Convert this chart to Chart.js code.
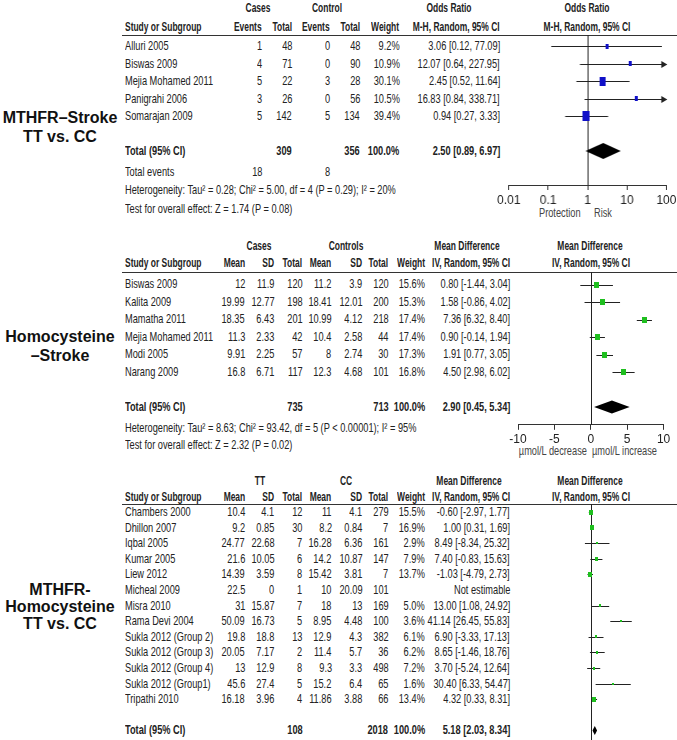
<!DOCTYPE html>
<html><head><meta charset="utf-8">
<script src="https://cdn.jsdelivr.net/npm/chart.js@4.4.1/dist/chart.umd.min.js"></script>
<style>
html,body{margin:0;padding:0;background:#fff;}
body{width:677px;height:740px;position:relative;overflow:hidden;font-family:"Liberation Sans",Arial,sans-serif;color:#222;}
.t{position:absolute;white-space:nowrap;font-size:13px;line-height:16px;}
.b,.h{font-weight:bold;}
.g{color:#444;}
.lab{position:absolute;white-space:nowrap;font-size:16px;font-weight:bold;line-height:20px;color:#111;}
.hl{position:absolute;height:0;border-top:1px solid #333;}
.wrap{position:absolute;}
</style></head><body>
<script>
// ---------------- DATA ----------------
// Panel 1: MTHFR–Stroke TT vs. CC (Odds ratio, log scale)
const p1Studies   = ["Alluri 2005","Biswas 2009","Mejia Mohamed 2011","Panigrahi 2006","Somarajan 2009"];
const p1CaseEv    = [1,4,5,3,5];
const p1CaseTot   = [48,71,22,26,142];
const p1CtrlEv    = [0,0,3,0,5];
const p1CtrlTot   = [48,90,28,56,134];
const p1Weight    = [9.2,10.9,30.1,10.5,39.4];
const p1Est       = [3.06,12.07,2.45,16.83,0.94];
const p1Lo        = [0.12,0.64,0.52,0.84,0.27];
const p1Hi        = [77.09,227.95,11.64,338.71,3.33];
const p1TotalN    = [309,356];
const p1TotalEv   = [18,8];
const p1TotalEst  = [2.50,0.89,6.97];   // estimate, lower, upper
const p1Ticks     = [0.01,0.1,1,10,100];
const p1TickLabels= ["0.01","0.1","1","10","100"];
const p1Het  = "Heterogeneity: Tau\u00b2 = 0.28; Chi\u00b2 = 5.00, df = 4 (P = 0.29); I\u00b2 = 20%";
const p1Test = "Test for overall effect: Z = 1.74 (P = 0.08)";

// Panel 2: Homocysteine–Stroke (Mean difference)
const p2Studies  = ["Biswas 2009","Kalita 2009","Mamatha 2011","Mejia Mohamed 2011","Modi 2005","Narang 2009"];
const p2CaseMean = [12,19.99,18.35,11.3,9.91,16.8];
const p2CaseSD   = [11.9,12.77,6.43,2.33,2.25,6.71];
const p2CaseTot  = [120,198,201,42,57,117];
const p2CtrlMean = [11.2,18.41,10.99,10.4,8,12.3];
const p2CtrlSD   = [3.9,12.01,4.12,2.58,2.74,4.68];
const p2CtrlTot  = [120,200,218,44,30,101];
const p2Weight   = [15.6,15.3,17.4,17.4,17.3,16.8];
const p2Est      = [0.80,1.58,7.36,0.90,1.91,4.50];
const p2Lo       = [-1.44,-0.86,6.32,-0.14,0.77,2.98];
const p2Hi       = [3.04,4.02,8.40,1.94,3.05,6.02];
const p2TotalN   = [735,713];
const p2TotalEst = [2.90,0.45,5.34];
const p2Ticks    = [-10,-5,0,5,10];
const p2TickLabels = ["-10","-5","0","5","10"];
const p2Het  = "Heterogeneity: Tau\u00b2 = 8.63; Chi\u00b2 = 93.42, df = 5 (P < 0.00001); I\u00b2 = 95%";
const p2Test = "Test for overall effect: Z = 2.32 (P = 0.02)";

// Panel 3: MTHFR–Homocysteine TT vs. CC (Mean difference)
const p3Studies  = ["Chambers 2000","Dhillon 2007","Iqbal 2005","Kumar 2005","Liew 2012","Micheal 2009","Misra 2010","Rama Devi 2004","Sukla 2012 (Group 2)","Sukla 2012 (Group 3)","Sukla 2012 (Group 4)","Sukla 2012 (Group1)","Tripathi 2010"];
const p3TTMean   = [10.4,9.2,24.77,21.6,14.39,22.5,31,50.09,19.8,20.05,13,45.6,16.18];
const p3TTSD     = [4.1,0.85,22.68,10.05,3.59,0,15.87,16.73,18.8,7.17,12.9,27.4,3.96];
const p3TTTot    = [12,30,7,6,8,1,7,5,13,2,8,5,4];
const p3CCMean   = [11,8.2,16.28,14.2,15.42,10,18,8.95,12.9,11.4,9.3,15.2,11.86];
const p3CCSD     = [4.1,0.84,6.36,10.87,3.81,20.09,13,4.48,4.3,5.7,3.3,6.4,3.88];
const p3CCTot    = [279,7,161,147,7,101,169,100,382,36,498,65,66];
const p3Weight   = [15.5,16.9,2.9,7.9,13.7,null,5.0,3.6,6.1,6.2,7.2,1.6,13.4];
const p3Est      = [-0.60,1.00,8.49,7.40,-1.03,null,13.00,41.14,6.90,8.65,3.70,30.40,4.32];
const p3Lo       = [-2.97,0.31,-8.34,-0.83,-4.79,null,1.08,26.45,-3.33,-1.46,-5.24,6.33,0.33];
const p3Hi       = [1.77,1.69,25.32,15.63,2.73,null,24.92,55.83,17.13,18.76,12.64,54.47,8.31];
const p3TotalN   = [108,2018];
const p3TotalEst = [5.18,2.03,8.34];

// ---------------- LAYOUT / HELPERS ----------------
const PAGE_W = 677, SQ = 0.71, SQH = 0.65;
function txt(s, x, y, align, cls) {
  const d = document.createElement('div');
  d.className = 't ' + (cls || '');
  d.textContent = s;
  d.style.top = (y - 8) + 'px';
  const sq = (cls === 'h') ? SQH : SQ;
  if (align === 'right') { d.style.right = (PAGE_W - x) + 'px'; d.style.transformOrigin = 'right center'; d.style.transform = 'scaleX(' + sq + ')'; }
  else if (align === 'center') { d.style.left = x + 'px'; d.style.transformOrigin = '0 50%'; d.style.transform = 'scaleX(' + sq + ') translateX(-50%)'; }
  else { d.style.left = x + 'px'; d.style.transformOrigin = 'left center'; d.style.transform = 'scaleX(' + sq + ')'; }
  document.body.appendChild(d);
}
function label(s, x, y) {
  const d = document.createElement('div');
  d.className = 'lab'; d.textContent = s;
  d.style.left = x + 'px'; d.style.top = (y - 10) + 'px'; d.style.transform = 'translateX(-50%)';
  document.body.appendChild(d);
}
function hline(x1, x2, y) {
  const d = document.createElement('div'); d.className = 'hl';
  d.style.left = x1 + 'px'; d.style.width = (x2 - x1) + 'px'; d.style.top = y + 'px';
  document.body.appendChild(d);
}
const f2 = v => v.toFixed(2);
const ci = (e, l, h) => f2(e) + ' [' + f2(l) + ', ' + f2(h) + ']';
const pct = w => w.toFixed(1) + '%';
function rectStyle(w, h, color) {
  const c = document.createElement('canvas'); c.width = w; c.height = h;
  const g = c.getContext('2d'); g.fillStyle = color; g.fillRect(0, 0, w, h); return c;
}

const forestPlugin = {
  id: 'forest',
  beforeDatasetsDraw(chart, args, o) {
    const {ctx, chartArea: a, scales: {x, y}} = chart;
    ctx.save();
    ctx.strokeStyle = o.lineColor; ctx.fillStyle = o.lineColor; ctx.lineWidth = 1;
    const xn = Math.round(x.getPixelForValue(o.nullValue)) + 0.5;
    ctx.beginPath(); ctx.moveTo(xn, a.top); ctx.lineTo(xn, a.bottom); ctx.stroke();
    o.rows.forEach((r, i) => {
      const lo = o.lo[i], hi = o.hi[i];
      if (lo == null || hi == null) return;
      const yy = Math.round(y.getPixelForValue(r)) + 0.5;
      const xl = x.getPixelForValue(Math.max(lo, x.min));
      const xh = x.getPixelForValue(Math.min(hi, x.max));
      ctx.beginPath(); ctx.moveTo(xl, yy); ctx.lineTo(xh, yy); ctx.stroke();
      if (hi > x.max) { ctx.beginPath(); ctx.moveTo(xh + 1, yy); ctx.lineTo(xh - 5, yy - 3.5); ctx.lineTo(xh - 5, yy + 3.5); ctx.closePath(); ctx.fill(); }
      if (lo < x.min) { ctx.beginPath(); ctx.moveTo(xl - 1, yy); ctx.lineTo(xl + 5, yy - 3.5); ctx.lineTo(xl + 5, yy + 3.5); ctx.closePath(); ctx.fill(); }
    });
    const t = o.total, yt = y.getPixelForValue(t.row);
    ctx.fillStyle = '#000';
    ctx.beginPath();
    ctx.moveTo(x.getPixelForValue(t.lo), yt);
    ctx.lineTo(x.getPixelForValue(t.est), yt - t.halfH);
    ctx.lineTo(x.getPixelForValue(t.hi), yt);
    ctx.lineTo(x.getPixelForValue(t.est), yt + t.halfH);
    ctx.closePath(); ctx.fill();
    ctx.restore();
  }
};

function makeChart(P, xScale, pts, styles, forestOpts) {
  const wrap = document.createElement('div'); wrap.className = 'wrap';
  document.body.appendChild(wrap);
  const cv = document.createElement('canvas'); wrap.appendChild(cv);
  let wl = P.left - 12, wt = P.top, ww = P.right - P.left + 24, wh = P.bottom - P.top + (xScale.display === false ? 0 : 26);
  const apply = () => { wrap.style.left = wl + 'px'; wrap.style.top = wt + 'px'; wrap.style.width = ww + 'px'; wrap.style.height = wh + 'px'; };
  apply();
  const rmin = 1 + (P.top - P.first) / P.pitch, rmax = 1 + (P.bottom - P.first) / P.pitch;
  const chart = new Chart(cv, {
    type: 'scatter',
    data: { datasets: [{ data: pts, pointStyle: styles, pointRadius: 3, pointHoverRadius: 3, borderWidth: 0 }] },
    options: {
      animation: false, responsive: true, maintainAspectRatio: false, events: [],
      layout: { padding: xScale.display === false ? 0 : { left: 12, right: 12, top: 0, bottom: 0 } },
      plugins: { legend: { display: false }, tooltip: { enabled: false }, forest: forestOpts },
      scales: { x: xScale, y: { type: 'linear', display: false, reverse: true, min: rmin, max: rmax } }
    },
    plugins: [forestPlugin]
  });
  for (let k = 0; k < 3; k++) {
    const a = chart.chartArea;
    wl = wl + (P.left - (wl + a.left));
    wt = wt + (P.top - (wt + a.top));
    ww = ww + ((P.right - P.left) - (a.right - a.left));
    wh = wh + ((P.bottom - P.top) - (a.bottom - a.top));
    apply(); chart.resize();
  }
  return chart;
}
function axisX(type, min, max, ticks, labels) {
  return {
    type, min, max,
    afterBuildTicks: s => { s.ticks = ticks.map(v => ({ value: v })); },
    ticks: { callback: (v, i) => labels[i], color: '#222', padding: 3, maxRotation: 0, autoSkip: false,
             font: { family: '"Liberation Sans Narrow","Liberation Sans",Arial,sans-serif', size: 12 } },
    grid: { display: true, drawOnChartArea: false, drawTicks: true, tickLength: 5, color: '#333', tickColor: '#333' },
    border: { display: true, color: '#333', width: 1 }
  };
}

// ---------------- PANEL 1 ----------------
const P1 = { first: 46, pitch: 17.5, top: 35, bottom: 185, left: 509, right: 665.7 };
const y1 = r => P1.first + (r - 1) * P1.pitch;
txt('Cases', 258, 8.3, 'center', 'h'); txt('Control', 326.5, 8.3, 'center', 'h');
txt('Odds Ratio', 449, 8.3, 'center', 'h'); txt('Odds Ratio', 587, 8.3, 'center', 'h');
const c1 = [262, 292, 330, 360, 399.5, 500];
txt('Study or Subgroup', 125, 26.7, 'left', 'h');
['Events', 'Total', 'Events', 'Total', 'Weight', 'M-H, Random, 95% CI'].forEach((h, j) => txt(h, c1[j], 26.7, 'right', 'h'));
txt('M-H, Random, 95% CI', 587, 26.7, 'center', 'h');
hline(122, 677, 35);
p1Studies.forEach((s, i) => {
  const y = y1(i + 1);
  txt(s, 125, y, 'left');
  [p1CaseEv[i], p1CaseTot[i], p1CtrlEv[i], p1CtrlTot[i], pct(p1Weight[i]), ci(p1Est[i], p1Lo[i], p1Hi[i])]
    .forEach((v, j) => txt(String(v), c1[j], y, 'right'));
});
const t1y = y1(7);
txt('Total (95% CI)', 125, t1y, 'left', 'b');
txt(String(p1TotalN[0]), c1[1], t1y, 'right', 'b'); txt(String(p1TotalN[1]), c1[3], t1y, 'right', 'b');
txt('100.0%', c1[4], t1y, 'right', 'b'); txt(ci(p1TotalEst[0], p1TotalEst[1], p1TotalEst[2]), c1[5], t1y, 'right', 'b');
txt('Total events', 125, t1y + 21, 'left');
txt(String(p1TotalEv[0]), c1[0], t1y + 21, 'right'); txt(String(p1TotalEv[1]), c1[2], t1y + 21, 'right');
txt(p1Het, 125, t1y + 39, 'left'); txt(p1Test, 125, t1y + 57.5, 'left');
txt('Protection', 581, 213, 'right', 'g'); txt('Risk', 594, 213, 'left', 'g');
label('MTHFR\u2013Stroke', 60, 118); label('TT vs. CC', 60, 137);

makeChart(P1, axisX('logarithmic', 0.01, 100, p1Ticks, p1TickLabels),
  p1Est.map((v, i) => ({ x: v, y: i + 1 })),
  p1Weight.map(w => { const h = Math.max(3, Math.round(Math.sqrt(w) * 1.6)); return rectStyle(Math.max(2, Math.round(h * 0.68)), h, '#1010c8'); }),
  { rows: p1Studies.map((s, i) => i + 1), lo: p1Lo, hi: p1Hi, nullValue: 1, lineColor: '#222',
    total: { row: 7, est: p1TotalEst[0], lo: p1TotalEst[1], hi: p1TotalEst[2], halfH: 8 } });

// ---------------- PANEL 2 ----------------
const P2 = { first: 284.3, pitch: 17.5, top: 271.7, bottom: 424.5, left: 517.7, right: 663.3 };
const y2 = r => P2.first + (r - 1) * P2.pitch;
const c2 = [245, 274.3, 302.3, 331.7, 362.3, 388.3, 425, 510];
txt('Cases', 259, 245.7, 'center', 'h'); txt('Controls', 345.5, 245.7, 'center', 'h');
txt('Mean Difference', 467, 245.7, 'center', 'h'); txt('Mean Difference', 590, 245.7, 'center', 'h');
txt('Study or Subgroup', 125, 263.3, 'left', 'h');
['Mean', 'SD', 'Total', 'Mean', 'SD', 'Total', 'Weight', 'IV, Random, 95% CI'].forEach((h, j) => txt(h, c2[j], 263.3, 'right', 'h'));
txt('IV, Random, 95% CI', 590.5, 263.3, 'center', 'h');
hline(122, 677, 271.7);
p2Studies.forEach((s, i) => {
  const y = y2(i + 1);
  txt(s, 125, y, 'left');
  [p2CaseMean[i], p2CaseSD[i], p2CaseTot[i], p2CtrlMean[i], p2CtrlSD[i], p2CtrlTot[i], pct(p2Weight[i]), ci(p2Est[i], p2Lo[i], p2Hi[i])]
    .forEach((v, j) => txt(String(v), c2[j], y, 'right'));
});
const t2y = y2(8);
txt('Total (95% CI)', 125, t2y, 'left', 'b');
txt(String(p2TotalN[0]), c2[2], t2y, 'right', 'b'); txt(String(p2TotalN[1]), c2[5], t2y, 'right', 'b');
txt('100.0%', c2[6], t2y, 'right', 'b'); txt(ci(p2TotalEst[0], p2TotalEst[1], p2TotalEst[2]), c2[7], t2y, 'right', 'b');
txt(p2Het, 125, t2y + 21, 'left'); txt(p2Test, 125, t2y + 38.5, 'left');
txt('\u00b5mol/L decrease', 587, 451, 'right', 'g'); txt('\u00b5mol/L increase', 592, 451, 'left', 'g');
label('Homocysteine', 60, 337); label('\u2013Stroke', 60, 356);

makeChart(P2, axisX('linear', -10, 10, p2Ticks, p2TickLabels),
  p2Est.map((v, i) => ({ x: v, y: i + 1 })),
  p2Weight.map(w => { const h = Math.round(Math.sqrt(w) * 1.45); return rectStyle(Math.round(h * 0.8), h, '#1fbf1f'); }),
  { rows: p2Studies.map((s, i) => i + 1), lo: p2Lo, hi: p2Hi, nullValue: 0, lineColor: '#222',
    total: { row: 8, est: p2TotalEst[0], lo: p2TotalEst[1], hi: p2TotalEst[2], halfH: 6.5 } });

// ---------------- PANEL 3 ----------------
const P3 = { first: 512, pitch: 15.6, top: 504, bottom: 740, left: 518, right: 664 };
const y3 = r => P3.first + (r - 1) * P3.pitch;
txt('TT', 259.5, 481, 'center', 'h'); txt('CC', 346, 481, 'center', 'h');
txt('Mean Difference', 469, 481, 'center', 'h'); txt('Mean Difference', 590, 481, 'center', 'h');
txt('Study or Subgroup', 125, 496.7, 'left', 'h');
['Mean', 'SD', 'Total', 'Mean', 'SD', 'Total', 'Weight', 'IV, Random, 95% CI'].forEach((h, j) => txt(h, c2[j], 496.7, 'right', 'h'));
txt('IV, Random, 95% CI', 590.5, 496.7, 'center', 'h');
hline(122, 677, 504);
p3Studies.forEach((s, i) => {
  const y = y3(i + 1);
  txt(s, 125, y, 'left');
  const est = p3Est[i] == null ? 'Not estimable' : ci(p3Est[i], p3Lo[i], p3Hi[i]);
  const w = p3Weight[i] == null ? '' : pct(p3Weight[i]);
  [p3TTMean[i], p3TTSD[i], p3TTTot[i], p3CCMean[i], p3CCSD[i], p3CCTot[i], w, est]
    .forEach((v, j) => { if (v !== '') txt(String(v), c2[j], y, 'right'); });
});
const t3y = y3(15);
txt('Total (95% CI)', 125, t3y, 'left', 'b');
txt(String(p3TotalN[0]), c2[2], t3y, 'right', 'b'); txt(String(p3TotalN[1]), c2[5], t3y, 'right', 'b');
txt('100.0%', c2[6], t3y, 'right', 'b'); txt(ci(p3TotalEst[0], p3TotalEst[1], p3TotalEst[2]), c2[7], t3y, 'right', 'b');
label('MTHFR-', 60, 590); label('Homocysteine', 60, 607); label('TT vs. CC', 60, 624);

const p3Pts = [], p3Sty = [];
p3Est.forEach((v, i) => {
  if (v == null) return;
  p3Pts.push({ x: v, y: i + 1 });
  const h = Math.max(2, Math.round(Math.sqrt(p3Weight[i]) * 1.3));
  p3Sty.push(rectStyle(Math.max(2, Math.round(h * 0.8)), h, '#1fbf1f'));
});
makeChart(P3, { type: 'linear', min: -100, max: 100, display: false },
  p3Pts, p3Sty,
  { rows: p3Studies.map((s, i) => i + 1), lo: p3Lo, hi: p3Hi, nullValue: 0, lineColor: '#222',
    total: { row: 15, est: p3TotalEst[0], lo: p3TotalEst[1], hi: p3TotalEst[2], halfH: 4.5 } });
</script>
</body></html>
